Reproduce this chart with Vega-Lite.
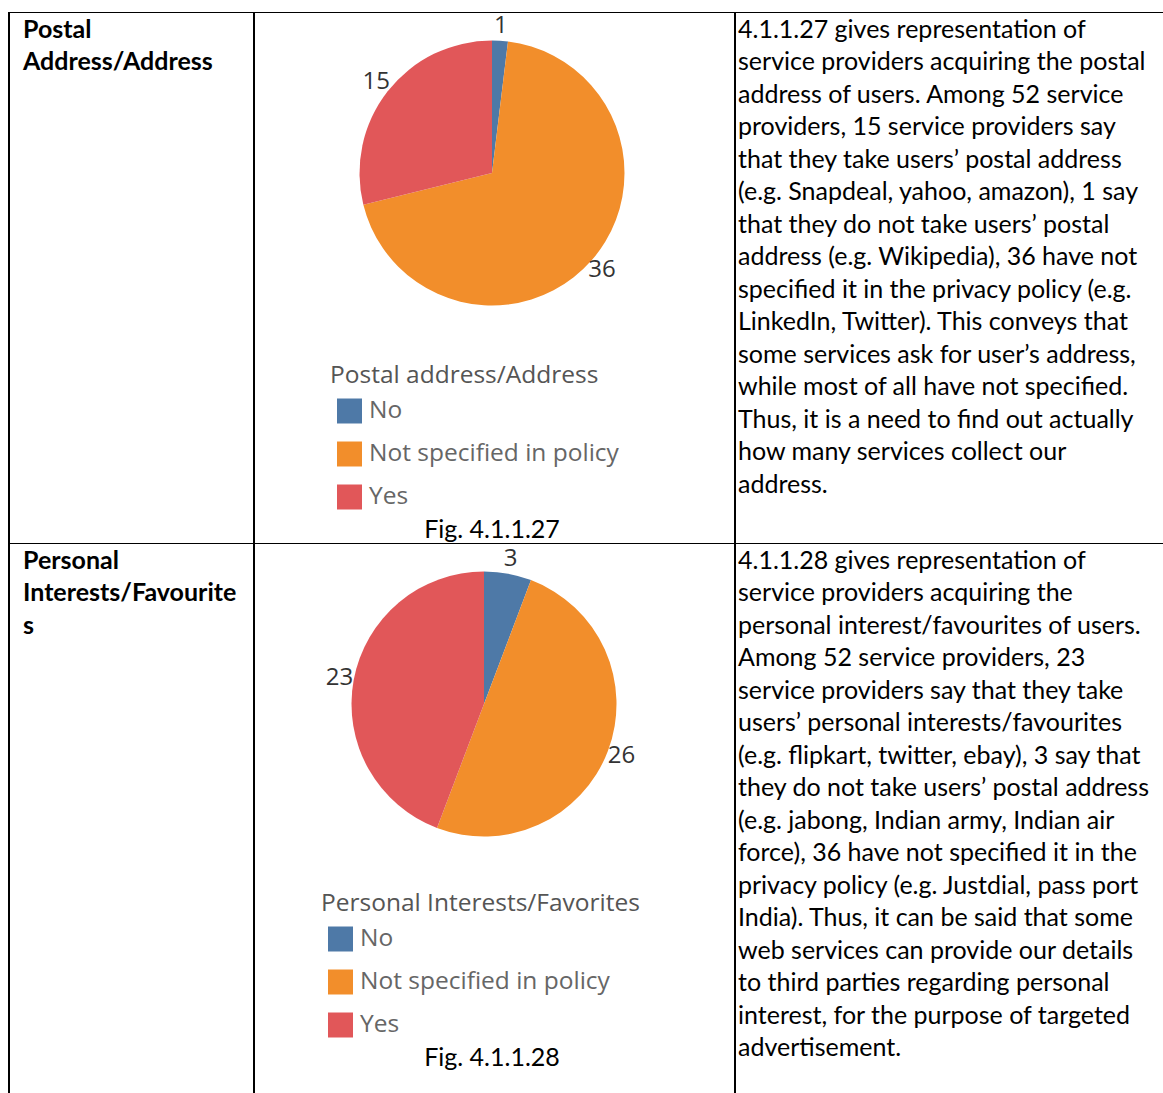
{
  "$schema": "https://vega.github.io/schema/vega-lite/v6.json",
  "background": "white",
  "padding": {"left": 8, "top": 12, "right": 0, "bottom": 0},
  "spacing": 0,
  "config": {"view": {"stroke": null}, "concat": {"spacing": 0}, "font": "Lato"},
  "resolve": {"scale": {"color": "independent"}, "legend": {"color": "independent"}},
  "datasets": {
    "none": [],
    "labels1": [
      {"line": 0, "text": "Postal"},
      {"line": 1, "text": "Address/Address"}
    ],
    "labels2": [
      {"line": 0, "text": "Personal"},
      {"line": 1, "text": "Interests/Favourite"},
      {"line": 2, "text": "s"}
    ],
    "body1": [
      {"line": 0, "text": "4.1.1.27 gives representation of"},
      {"line": 1, "text": "service providers acquiring the postal"},
      {"line": 2, "text": "address of users. Among 52 service"},
      {"line": 3, "text": "providers, 15 service providers say"},
      {"line": 4, "text": "that they take users’ postal address"},
      {"line": 5, "text": "(e.g. Snapdeal, yahoo, amazon), 1 say"},
      {"line": 6, "text": "that they do not take users’ postal"},
      {"line": 7, "text": "address (e.g. Wikipedia), 36 have not"},
      {"line": 8, "text": "specified it in the privacy policy (e.g."},
      {"line": 9, "text": "LinkedIn, Twitter). This conveys that"},
      {"line": 10, "text": "some services ask for user’s address,"},
      {"line": 11, "text": "while most of all have not specified."},
      {"line": 12, "text": "Thus, it is a need to find out actually"},
      {"line": 13, "text": "how many services collect our"},
      {"line": 14, "text": "address."}
    ],
    "body2": [
      {"line": 0, "text": "4.1.1.28 gives representation of"},
      {"line": 1, "text": "service providers acquiring the"},
      {"line": 2, "text": "personal interest/favourites of users."},
      {"line": 3, "text": "Among 52 service providers, 23"},
      {"line": 4, "text": "service providers say that they take"},
      {"line": 5, "text": "users’ personal interests/favourites"},
      {"line": 6, "text": "(e.g. flipkart, twitter, ebay), 3 say that"},
      {"line": 7, "text": "they do not take users’ postal address"},
      {"line": 8, "text": "(e.g. jabong, Indian army, Indian air"},
      {"line": 9, "text": "force), 36 have not specified it in the"},
      {"line": 10, "text": "privacy policy (e.g. Justdial, pass port"},
      {"line": 11, "text": "India). Thus, it can be said that some"},
      {"line": 12, "text": "web services can provide our details"},
      {"line": 13, "text": "to third parties regarding personal"},
      {"line": 14, "text": "interest, for the purpose of targeted"},
      {"line": 15, "text": "advertisement."}
    ],
    "pie1": [
      {"answer": "No", "count": 1},
      {"answer": "Not specified in policy", "count": 36},
      {"answer": "Yes", "count": 15}
    ],
    "pie2": [
      {"answer": "No", "count": 3},
      {"answer": "Not specified in policy", "count": 26},
      {"answer": "Yes", "count": 23}
    ]
  },
  "vconcat": [
    {"width": 1155, "height": 1, "view": {"fill": "black", "stroke": null}, "data": {"name": "none"}, "mark": {"type": "text"}, "encoding": {"text": {"value": ""}}},
    {
      "spacing": 0,
      "bounds": "flush",
      "resolve": {"scale": {"color": "independent"}, "legend": {"color": "independent"}},
      "hconcat": [
        {"width": 2, "height": 530, "view": {"fill": "black", "stroke": null}, "data": {"name": "none"}, "mark": {"type": "text"}, "encoding": {"text": {"value": ""}}},
        {
          "width": 243, "height": 530,
          "data": {"name": "labels1"},
          "mark": {"type": "text", "align": "left", "baseline": "alphabetic", "font": "Lato", "fontSize": 25, "fontWeight": "bold", "fill": "black"},
          "encoding": {
            "x": {"value": 13},
            "y": {"field": "line", "type": "quantitative", "scale": {"domain": [0, 1], "range": [24.5, 57], "nice": false, "zero": false}, "axis": null},
            "text": {"field": "text"}
          }
        },
        {"width": 2, "height": 530, "view": {"fill": "black", "stroke": null}, "data": {"name": "none"}, "mark": {"type": "text"}, "encoding": {"text": {"value": ""}}},
        {
          "width": 474, "height": 320,
          "data": {"name": "pie1"},
          "title": {"text": "Fig. 4.1.1.27", "orient": "bottom", "frame": "group", "anchor": "middle", "baseline": "alphabetic", "offset": 28, "font": "Lato", "fontSize": 25, "fontWeight": "normal", "color": "black"},
          "encoding": {
            "theta": {"field": "count", "type": "quantitative", "stack": true},
            "order": {"field": "answer", "type": "ordinal", "sort": "ascending"}
          },
          "layer": [
            {
              "mark": {"type": "arc", "outerRadius": 132.5},
              "encoding": {
                "color": {
                  "field": "answer", "type": "nominal",
                  "scale": {"domain": ["No", "Not specified in policy", "Yes"], "range": ["#4e79a7", "#f28e2b", "#e15759"]},
                  "legend": {"orient": "none", "legendX": 75, "legendY": 351, "title": "Postal address/Address", "symbolType": "square", "symbolSize": 625, "symbolOffset": 7, "labelOffset": 7, "rowPadding": 17, "titlePadding": 10, "labelFont": "Open Sans", "labelFontSize": 24.5, "labelColor": "#666666", "titleFont": "Open Sans", "titleFontSize": 24.5, "titleFontWeight": "normal", "titleColor": "#555555", "labelLimit": 500, "titleLimit": 500, "padding": 0, "symbolStrokeWidth": 0, "symbolOpacity": 1}
                }
              }
            },
            {
              "mark": {"type": "text", "radius": 147, "font": "Open Sans", "fontSize": 24, "fill": "#333333", "align": "center", "baseline": "middle"},
              "encoding": {"text": {"field": "count", "type": "quantitative"}, "detail": {"field": "answer", "type": "nominal"}}
            }
          ]
        },
        {"width": 5, "height": 1, "data": {"name": "none"}, "mark": {"type": "text"}, "encoding": {"text": {"value": ""}}},
        {"width": 2, "height": 530, "view": {"fill": "black", "stroke": null}, "data": {"name": "none"}, "mark": {"type": "text"}, "encoding": {"text": {"value": ""}}},
        {
          "width": 427, "height": 530,
          "data": {"name": "body1"},
          "mark": {"type": "text", "align": "left", "baseline": "alphabetic", "font": "Lato", "fontSize": 25, "fill": "black"},
          "encoding": {
            "x": {"value": 2},
            "y": {"field": "line", "type": "quantitative", "scale": {"domain": [0, 1], "range": [24.5, 57], "nice": false, "zero": false}, "axis": null},
            "text": {"field": "text"}
          }
        }
      ]
    },
    {"width": 1155, "height": 1, "view": {"fill": "black", "stroke": null}, "data": {"name": "none"}, "mark": {"type": "text"}, "encoding": {"text": {"value": ""}}},
    {
      "spacing": 0,
      "bounds": "flush",
      "resolve": {"scale": {"color": "independent"}, "legend": {"color": "independent"}},
      "hconcat": [
        {"width": 2, "height": 549, "view": {"fill": "black", "stroke": null}, "data": {"name": "none"}, "mark": {"type": "text"}, "encoding": {"text": {"value": ""}}},
        {
          "width": 243, "height": 549,
          "data": {"name": "labels2"},
          "mark": {"type": "text", "align": "left", "baseline": "alphabetic", "font": "Lato", "fontSize": 25, "fontWeight": "bold", "fill": "black"},
          "encoding": {
            "x": {"value": 13},
            "y": {"field": "line", "type": "quantitative", "scale": {"domain": [0, 1], "range": [24.5, 57], "nice": false, "zero": false}, "axis": null},
            "text": {"field": "text"}
          }
        },
        {"width": 2, "height": 549, "view": {"fill": "black", "stroke": null}, "data": {"name": "none"}, "mark": {"type": "text"}, "encoding": {"text": {"value": ""}}},
        {
          "width": 458, "height": 320,
          "data": {"name": "pie2"},
          "title": {"text": "Fig. 4.1.1.28", "orient": "bottom", "frame": "group", "anchor": "middle", "baseline": "alphabetic", "offset": 28, "dx": 8, "font": "Lato", "fontSize": 25, "fontWeight": "normal", "color": "black"},
          "encoding": {
            "theta": {"field": "count", "type": "quantitative", "stack": true},
            "order": {"field": "answer", "type": "ordinal", "sort": "ascending"}
          },
          "layer": [
            {
              "mark": {"type": "arc", "outerRadius": 132.5},
              "encoding": {
                "color": {
                  "field": "answer", "type": "nominal",
                  "scale": {"domain": ["No", "Not specified in policy", "Yes"], "range": ["#4e79a7", "#f28e2b", "#e15759"]},
                  "legend": {"orient": "none", "legendX": 66, "legendY": 348, "title": "Personal Interests/Favorites", "symbolType": "square", "symbolSize": 625, "symbolOffset": 7, "labelOffset": 7, "rowPadding": 17, "titlePadding": 10, "labelFont": "Open Sans", "labelFontSize": 24.5, "labelColor": "#666666", "titleFont": "Open Sans", "titleFontSize": 24.5, "titleFontWeight": "normal", "titleColor": "#555555", "labelLimit": 500, "titleLimit": 500, "padding": 0, "symbolStrokeWidth": 0, "symbolOpacity": 1}
                }
              }
            },
            {
              "mark": {"type": "text", "radius": 147, "font": "Open Sans", "fontSize": 24, "fill": "#333333", "align": "center", "baseline": "middle"},
              "encoding": {"text": {"field": "count", "type": "quantitative"}, "detail": {"field": "answer", "type": "nominal"}}
            }
          ]
        },
        {"width": 21, "height": 1, "data": {"name": "none"}, "mark": {"type": "text"}, "encoding": {"text": {"value": ""}}},
        {"width": 2, "height": 549, "view": {"fill": "black", "stroke": null}, "data": {"name": "none"}, "mark": {"type": "text"}, "encoding": {"text": {"value": ""}}},
        {
          "width": 427, "height": 549,
          "data": {"name": "body2"},
          "mark": {"type": "text", "align": "left", "baseline": "alphabetic", "font": "Lato", "fontSize": 25, "fill": "black"},
          "encoding": {
            "x": {"value": 2},
            "y": {"field": "line", "type": "quantitative", "scale": {"domain": [0, 1], "range": [24.5, 57], "nice": false, "zero": false}, "axis": null},
            "text": {"field": "text"}
          }
        }
      ]
    }
  ]
}
